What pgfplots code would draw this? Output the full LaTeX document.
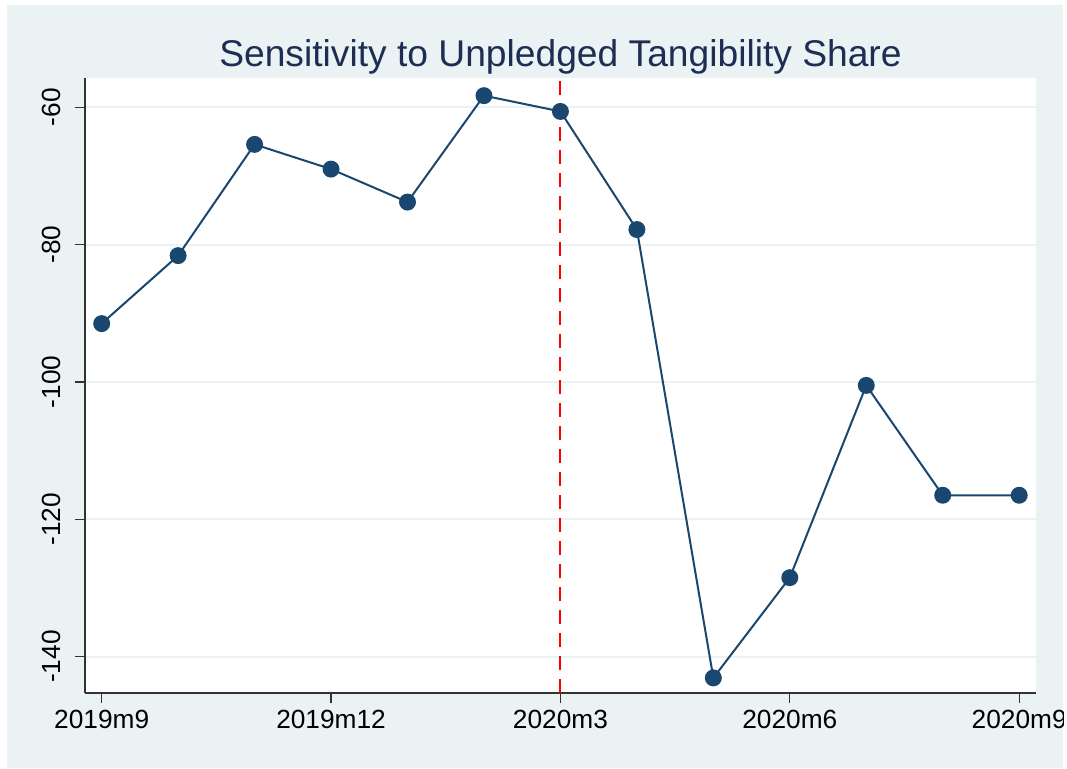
\documentclass[border=0pt]{standalone}
\usepackage{pgfplots}
\pgfplotsset{compat=1.18}
\usepackage{fontspec}
\setmainfont{Liberation Sans}
\definecolor{stblue}{HTML}{1A476F}
\definecolor{bgblue}{HTML}{EAF2F3}
\definecolor{titlecol}{HTML}{1E2D53}
\begin{document}
\begin{tikzpicture}[x=0.75pt,y=0.75pt]
\fill[white] (0,0) rectangle (1067,768);
\fill[bgblue] (7,0) rectangle (1063,763);
\clip (7,0) rectangle (1063,763);
\begin{axis}[
  at={(85pt*0.75,75pt*0.75)}, anchor=south west,
  scale only axis,
  width=713.25pt, height=461.25pt,
  xmin=-0.218, xmax=12.22,
  ymin=-145.3, ymax=-55.73,
  axis background/.style={fill=white},
  axis x line*=bottom, axis y line*=left,
  axis line style={line width=0.9pt, black!80, -},
  xtick={0,3,6,9,12},
  xticklabels={2019m9,2019m12,2020m3,2020m6,2020m9},
  ytick={-140,-120,-100,-80,-60},
  yticklabel style={rotate=90, anchor=south, yshift=7pt},
  xticklabel style={anchor=north, yshift=-2pt},
  tick label style={font=\fontsize{19.7}{22}\selectfont, black},
  /pgf/number format/assume math mode=true,
  tick align=outside, major tick length=7.5pt,
  tick style={line width=0.9pt, black!80},
  ymajorgrids, grid style={bgblue, line width=1.5pt},
  clip=false,
  title={Sensitivity to Unpledged Tangibility Share},
  title style={font=\fontsize{27.9}{32}\selectfont, text=titlecol, yshift=-7pt},
]
\addplot[red, line width=1.5pt, dash pattern=on 10.5pt off 6.75pt] coordinates {(6,-145.3) (6,-55.73)};
\addplot[stblue, line width=1.5pt, mark=*, mark size=5.6pt, mark options={fill=stblue, draw=stblue}] coordinates {
(0,-91.5) (1,-81.6) (2,-65.4) (3,-69.0) (4,-73.8) (5,-58.3) (6,-60.6)
(7,-77.8) (8,-143.1) (9,-128.5) (10,-100.5) (11,-116.5) (12,-116.5)};
\end{axis}
\end{tikzpicture}
\end{document}
